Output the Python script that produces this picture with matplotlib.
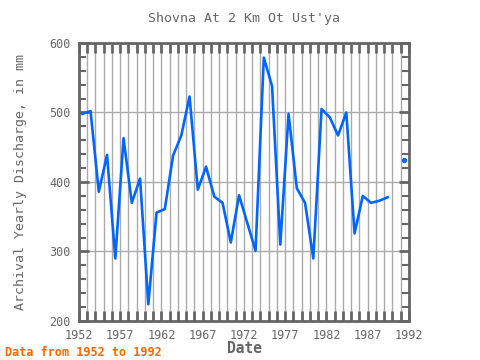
import matplotlib
matplotlib.use("Agg")
import matplotlib.pyplot as plt
import numpy as np
from matplotlib.ticker import MultipleLocator

years = [1952, 1953, 1954, 1955, 1956, 1957, 1958, 1959, 1960, 1961,
         1962, 1963, 1964, 1965, 1966, 1967, 1968, 1969, 1970, 1971,
         1972, 1973, 1974, 1975, 1976, 1977, 1978, 1979, 1980, 1981,
         1982, 1983, 1984, 1985, 1986, 1987, 1988, 1989]
values = [498, 502, 386, 439, 290, 463, 370, 405, 224, 356,
          361, 438, 467, 523, 389, 422, 379, 370, 313, 381,
          341, 301, 579, 538, 310, 498, 391, 370, 290, 505,
          493, 467, 500, 326, 380, 370, 373, 378]
iso_years = [1991]
iso_values = [431]

x_ticks = [1952, 1957, 1962, 1967, 1972, 1977, 1982, 1987, 1992]
y_ticks = [200, 300, 400, 500, 600]

# dates are placed within the year (roughly late spring)
date_offset = 0.4

plt.rcParams['font.family'] = ['DejaVu Sans Mono']
gray = '#666666'
fig = plt.figure(figsize=(4.8, 3.6), dpi=100)
ax = fig.add_axes([79/480, 1-321/360, (409-79)/480, (321-43)/360])

ax.plot(np.array(years) + date_offset, values, color='#0066ff', lw=1.9, zorder=3)
ax.plot(np.array(iso_years) + date_offset, iso_values, 'o', color='#0066ff', ms=2.8, zorder=3)

ax.set_xlim(1952, 1992)
ax.set_ylim(200, 600)
ax.set_xticks(x_ticks)
ax.xaxis.set_minor_locator(MultipleLocator(1))
ax.set_yticks(y_ticks)
ax.yaxis.set_minor_locator(MultipleLocator(20))

ax.grid(True, which='major', axis='y', color='#aaaaaa', lw=1)
ax.grid(True, which='both', axis='x', color='#aaaaaa', lw=1)
ax.set_axisbelow(True)

for s in ax.spines.values():
    s.set_color(gray)
    s.set_linewidth(2)

ax.tick_params(axis='x', which='both', direction='in', top=True, bottom=True,
               length=7, width=2, color=gray, labelsize=8.5, labelcolor=gray, pad=6)
ax.tick_params(axis='y', which='major', direction='in', left=True, right=True,
               length=7, width=2, color=gray, labelsize=8.5, labelcolor=gray, pad=6)
ax.tick_params(axis='y', which='minor', direction='in', left=True, right=True,
               length=5, width=1.5, color=gray)

ax.set_title("Shovna At 2 Km Ot Ust'ya", color=gray, fontsize=9.5, pad=15)
ax.set_xlabel('Date', color=gray, fontsize=10.5, fontweight='bold', labelpad=-1)
ax.set_ylabel('Archival Yearly Discharge, in mm', color=gray, fontsize=9.5, labelpad=16)

fig.text(5/480, 1-352/360, 'Data from 1952 to 1992', color='#ff6600',
         fontsize=8.5, fontweight='bold', va='center', ha='left')

fig.savefig('out.png', dpi=100)
